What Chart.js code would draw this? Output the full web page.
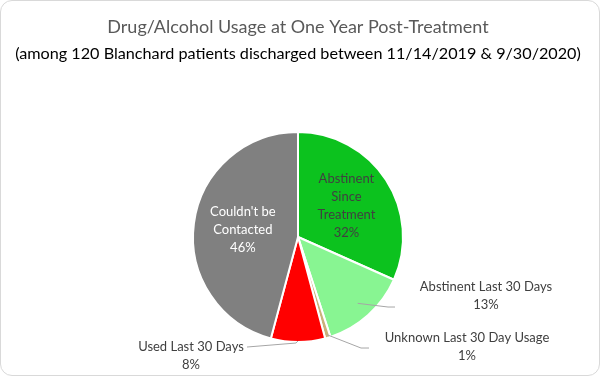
<!DOCTYPE html>
<html>
<head>
<meta charset="utf-8">
<script src="https://cdn.jsdelivr.net/npm/chart.js@4"></script>
<style>
  html, body { margin: 0; padding: 0; background: #fff; }
  #wrap {
    position: absolute; left: 0; top: 0; width: 598px; height: 374px;
    border: 1px solid #d9d9d9; border-radius: 12px; background: #fff; overflow: hidden;
  }
  canvas { display: block; }
</style>
</head>
<body>
<div id="wrap"><canvas id="chart" width="598" height="374"></canvas></div>
<script>
// patients out of 120, clockwise from 12 o'clock
const categories = [
  'Abstinent Since Treatment',
  'Abstinent Last 30 Days',
  'Unknown Last 30 Day Usage',
  'Used Last 30 Days',
  "Couldn't be Contacted"
];
const counts = [38, 16, 1, 10, 55];
const percentLabels = ['32%', '13%', '1%', '8%', '46%'];
const sliceColors = ['#0cc21e', '#88f592', '#c9b27a', '#ff0000', '#808080'];

// how each label is placed (inside the slice or out on a leader line)
const labelLayout = [
  { inside: true, lines: ['Abstinent', 'Since', 'Treatment'], dist: 0.55, color: '#404040' },
  { inside: false, line: [[0.85, 0], [90, 70], [97, 70]], text: [188, 50], lines: ['Abstinent Last 30 Days'] },
  { inside: false, line: [[0.97, 0], [63, 111], [71, 111]], text: [169, 101], lines: ['Unknown Last 30 Day Usage'] },
  { inside: false, line: [[0.99, 0], [-2, 106], [-51, 110]], text: [-107, 110], lines: ['Used Last 30 Days'] },
  { inside: true, lines: ["Couldn't be", 'Contacted'], dist: 0.53, color: '#ffffff' }
];

const sliceLabels = {
  id: 'sliceLabels',
  afterDatasetsDraw(chart) {
    const ctx = chart.ctx;
    const arcs = chart.getDatasetMeta(0).data;
    ctx.save();
    ctx.font = '13px Lato';
    ctx.textAlign = 'center';
    ctx.textBaseline = 'middle';
    const lh = 18;
    arcs.forEach((arc, i) => {
      const cfg = labelLayout[i];
      const { x, y, startAngle, endAngle, outerRadius } = arc.getProps(['x', 'y', 'startAngle', 'endAngle', 'outerRadius'], true);
      const mid = (startAngle + endAngle) / 2;
      const lines = cfg.lines.concat([percentLabels[i]]);
      if (cfg.inside) {
        const cx = x + Math.cos(mid) * outerRadius * cfg.dist;
        const cy = y + Math.sin(mid) * outerRadius * cfg.dist;
        ctx.fillStyle = cfg.color;
        const top = cy - (lines.length - 1) * lh / 2;
        lines.forEach((t, k) => ctx.fillText(t, cx, top + k * lh));
      } else {
        const sx = x + Math.cos(mid) * outerRadius * cfg.line[0][0];
        const sy = y + Math.sin(mid) * outerRadius * cfg.line[0][0];
        ctx.strokeStyle = '#a6a6a6';
        ctx.lineWidth = 1;
        ctx.beginPath();
        ctx.moveTo(sx, sy);
        for (let k = 1; k < cfg.line.length; k++) ctx.lineTo(x + cfg.line[k][0], y + cfg.line[k][1]);
        ctx.stroke();
        ctx.fillStyle = '#404040';
        const tx = x + cfg.text[0], ty = y + cfg.text[1];
        lines.forEach((t, k) => ctx.fillText(t, tx, ty + k * lh));
      }
    });
    ctx.restore();
  }
};

new Chart(document.getElementById('chart'), {
  type: 'pie',
  data: {
    labels: categories,
    datasets: [{
      data: counts,
      backgroundColor: sliceColors,
      borderColor: '#ffffff',
      borderWidth: 2
    }]
  },
  options: {
    responsive: false,
    animation: false,
    layout: { padding: { top: 0, bottom: 32, left: 0, right: 4 } },
    plugins: {
      legend: { display: false },
      tooltip: { enabled: false },
      title: {
        display: true,
        text: 'Drug/Alcohol Usage at One Year Post-Treatment',
        color: '#595959',
        font: { family: 'Lato', size: 18, weight: 'normal' },
        padding: { top: 15, bottom: 6 }
      },
      subtitle: {
        display: true,
        text: '(among 120 Blanchard patients discharged between 11/14/2019 & 9/30/2020)',
        color: '#000000',
        font: { family: 'Lato', size: 16.2, weight: 'normal' },
        padding: { top: 0, bottom: 68 }
      }
    }
  },
  plugins: [sliceLabels]
});
</script>
</body>
</html>
